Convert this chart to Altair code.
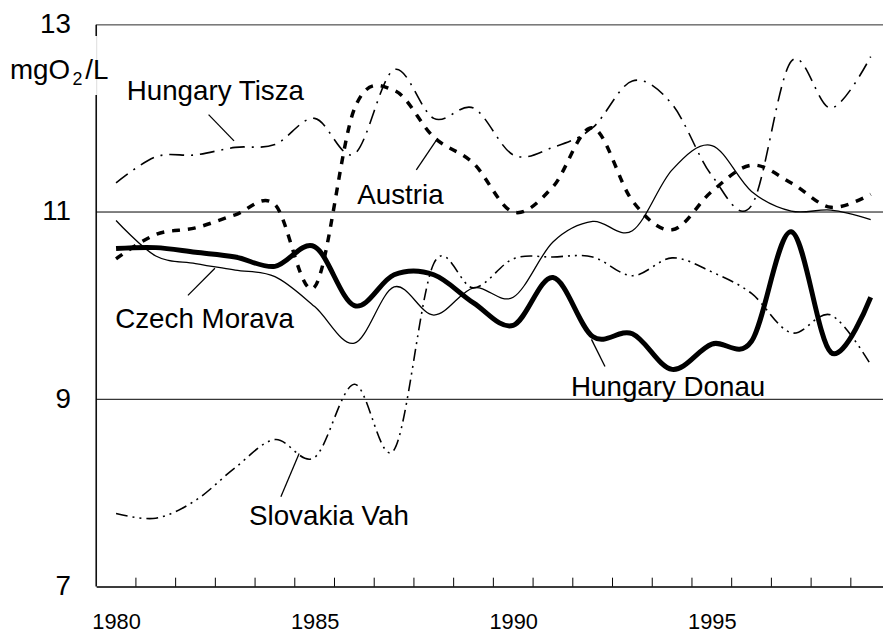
import altair as alt
import pandas as pd

# ---------------- data ----------------
years = list(range(1980, 2000))
hungary_donau = [10.61, 10.62, 10.57, 10.52, 10.42, 10.63, 10.00, 10.33, 10.33, 10.03,
                 9.79, 10.30, 9.67, 9.70, 9.32, 9.59, 9.62, 10.79, 9.50, 10.09]
czech_morava = [10.91, 10.53, 10.45, 10.38, 10.31, 9.99, 9.60, 10.20, 9.90, 10.19,
                10.09, 10.68, 10.90, 10.80, 11.45, 11.71, 11.22, 11.01, 11.02, 10.92]
austria = [10.50, 10.76, 10.83, 10.97, 11.08, 10.20, 12.10, 12.30, 11.80, 11.52,
           11.00, 11.27, 11.90, 11.12, 10.81, 11.22, 11.50, 11.31, 11.05, 11.19]
hungary_tisza = [11.31, 11.59, 11.61, 11.69, 11.72, 12.00, 11.62, 12.52, 12.00, 12.11,
                 11.61, 11.69, 11.90, 12.40, 12.15, 11.39, 11.07, 12.61, 12.11, 12.66]
slovakia_vah = [7.78, 7.73, 7.92, 8.27, 8.57, 8.38, 9.16, 8.46, 10.45, 10.19,
                10.50, 10.52, 10.52, 10.32, 10.51, 10.36, 10.13, 9.71, 9.90, 9.37]

series = {
    "Hungary Donau": hungary_donau,
    "Czech Morava": czech_morava,
    "Austria": austria,
    "Hungary Tisza": hungary_tisza,
    "Slovakia Vah": slovakia_vah,
}

label_names = ["Hungary Tisza", "Austria", "Czech Morava", "Hungary Donau", "Slovakia Vah"]
label_x = [1982.50, 1987.16, 1982.23, 1993.90, 1985.36]
label_y = [12.20, 11.085, 9.76, 9.035, 7.66]

pointer_x = [1982.33, 1987.56, 1981.81, 1992.31, 1984.15]
pointer_y = [12.04, 11.45, 10.11, 9.35, 7.96]
pointer_x2 = [1982.97, 1988.10, 1982.49, 1991.97, 1984.61]
pointer_y2 = [11.76, 11.79, 10.40, 9.64, 8.42]

x_label_years = [1980, 1985, 1990, 1995]
y_label_values = [7, 9, 11, 13]
grid_values = [9, 11]
tick_positions = [y + 0.5 for y in range(1980, 1999)]

# ---------------- layout ----------------
W = 794
H = 567
FONT = "Liberation Sans"

xscale = alt.Scale(domain=[1979.5, 1999.31], nice=False, zero=False)
yscale = alt.Scale(domain=[7, 13], nice=False, zero=False)

x_axis = alt.Axis(values=x_label_years, format="d", title=None, grid=False,
                  ticks=False, tickSize=0, labelFontSize=22, labelFont=FONT,
                  labelColor="black", labelPadding=42, labelBaseline="alphabetic",
                  domainColor="black", domainWidth=1.5, labelFlush=False)
y_axis = alt.Axis(values=y_label_values, title=None, grid=False, ticks=False,
                  tickSize=0, labelFontSize=28, labelFont=FONT, labelColor="black",
                  labelPadding=26, domain=False, labelBaseline="middle")


def X(field):
    return alt.X(field, type="quantitative", scale=xscale, axis=x_axis)


def Y(field):
    return alt.Y(field, type="quantitative", scale=yscale, axis=y_axis)


rows = []
for name, vals in series.items():
    for yr, v in zip(years, vals):
        rows.append({"series": name, "year": yr, "value": v})
df = pd.DataFrame(rows)

styles = {
    "Hungary Donau": dict(strokeWidth=5),
    "Czech Morava": dict(strokeWidth=1.3),
    "Austria": dict(strokeWidth=3.5, strokeDash=[8, 8]),
    "Hungary Tisza": dict(strokeWidth=1.6, strokeDash=[15, 7, 2, 7]),
    "Slovakia Vah": dict(strokeWidth=1.6, strokeDash=[12, 5, 2, 5, 2, 5]),
}

layers = []

# grid lines at 9 and 11
grid_df = pd.DataFrame({"v": grid_values})
layers.append(alt.Chart(grid_df).mark_rule(color="black", strokeWidth=1).encode(
    y=Y("v"), x=alt.value(0), x2=alt.value(W)))

# top border at 13
top_df = pd.DataFrame({"v": [13]})
layers.append(alt.Chart(top_df).mark_rule(color="#7a7a7a", strokeWidth=1.5).encode(
    y=Y("v"), x=alt.value(0), x2=alt.value(W)))

# left axis line (with gap behind the unit label)
yl_df = pd.DataFrame({"a": [7, 12.88], "b": [12.25, 13]})
layers.append(alt.Chart(yl_df).mark_rule(color="black", strokeWidth=1.5).encode(
    y=Y("a"), y2="b", x=alt.value(0)))

# x tick marks between categories
tick_df = pd.DataFrame({"t": tick_positions})
layers.append(alt.Chart(tick_df).mark_rule(color="black", strokeWidth=1).encode(
    x=X("t"), y=alt.value(H), y2=alt.value(H - 9)))

# series lines
for name in series:
    sub = df[df["series"] == name]
    layers.append(alt.Chart(sub).mark_line(color="black", interpolate="cardinal",
                                           strokeCap="butt", **styles[name]).encode(
        x=X("year"), y=Y("value")))

# pointer lines
ptr_df = pd.DataFrame({"x": pointer_x, "y": pointer_y, "x2": pointer_x2, "y2": pointer_y2})
layers.append(alt.Chart(ptr_df).mark_rule(color="black", strokeWidth=1.3).encode(
    x=X("x"), y=Y("y"), x2="x2", y2="y2"))

# series labels
lab_df = pd.DataFrame({"name": label_names, "x": label_x, "y": label_y})
layers.append(alt.Chart(lab_df).mark_text(font=FONT, fontSize=28, align="center",
                                          baseline="alphabetic", color="black").encode(
    x=X("x"), y=Y("y"), text="name"))

# unit label mgO2/L
unit_df = pd.DataFrame({"t": ["mgO"]})
layers.append(alt.Chart(unit_df).mark_text(font=FONT, fontSize=28, align="left",
                                           baseline="alphabetic", color="black").encode(
    x=alt.value(-87), y=alt.value(55), text="t"))
unit_df2 = pd.DataFrame({"t": ["2"]})
layers.append(alt.Chart(unit_df2).mark_text(font=FONT, fontSize=18, align="left",
                                            baseline="alphabetic", color="black").encode(
    x=alt.value(-24), y=alt.value(61), text="t"))
unit_df3 = pd.DataFrame({"t": ["/L"]})
layers.append(alt.Chart(unit_df3).mark_text(font=FONT, fontSize=28, align="left",
                                            baseline="alphabetic", color="black").encode(
    x=alt.value(-11), y=alt.value(55), text="t"))

chart = alt.layer(*layers).properties(
    width=W, height=H,
    autosize=alt.AutoSizeParams(type="none"),
    padding={"left": 89, "top": 14, "right": 0, "bottom": 50},
).configure_view(stroke=None).configure(background="white")

chart.save("out.html", embed_options={"renderer": "svg", "actions": False})
